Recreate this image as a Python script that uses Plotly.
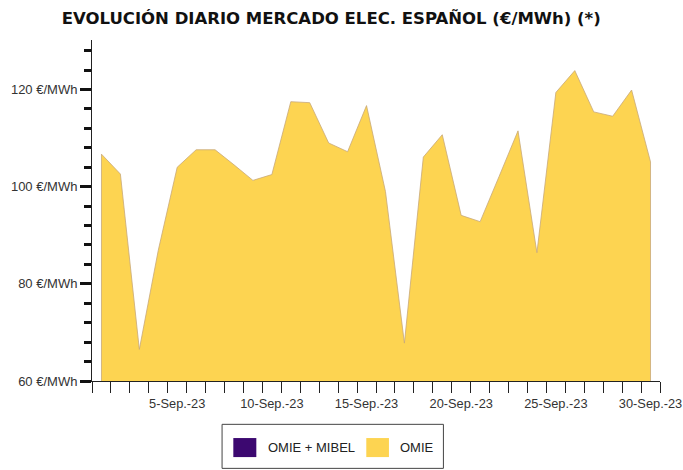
import plotly.graph_objects as go

# daily price, September 2023 (OMIE)
days = list(range(1, 31))
omie = [106.7, 102.6, 66.5, 86.9, 104.0, 107.6, 107.6, 104.5, 101.3, 102.5,
        117.5, 117.3, 109.0, 107.2, 116.7, 99.0, 67.8, 106.1, 110.7, 94.1,
        92.8, 102.1, 111.5, 86.4, 119.4, 123.9, 115.4, 114.5, 119.9, 105.1]

label_days = [5, 10, 15, 20, 25, 30]
label_text = [f"{d}-Sep.-23" for d in label_days]
y_ticks = [60, 80, 100, 120]
y_text = [f"{v} €/MWh" for v in y_ticks]
y_min, y_max = 60, 130.2

legend_names = ["OMIE + MIBEL", "OMIE"]
legend_colors = ["#3c0870", "#fdd451"]

# closed polygon so the outline runs down both sides like the original
poly_x = [days[0]] + days + [days[-1]]
poly_y = [y_min] + omie + [y_min]

fig = go.Figure()
fig.add_trace(go.Scatter(
    x=poly_x, y=poly_y,
    fill="toself",
    fillcolor="#fdd451",
    line=dict(color="#c8a878", width=0.8),
    mode="lines",
    name="OMIE",
    hoverinfo="skip",
    showlegend=False
))

tick_font = dict(family="Liberation Sans, Arial", size=13, color="#333")

fig.update_xaxes(
    range=[0.5, 30.5],
    tickvals=label_days,
    ticktext=label_text,
    ticks="outside", ticklen=11, tickcolor="rgba(0,0,0,0)",
    minor=dict(tick0=0.5, dtick=1, ticks="outside", ticklen=11,
               tickwidth=1, tickcolor="#222"),
    showline=True, linecolor="#222", linewidth=1,
    showgrid=False, zeroline=False, automargin=False,
    ticklabeloverflow="allow",
    tickfont=dict(tick_font, size=12.8)
)
fig.update_yaxes(
    range=[y_min, y_max],
    tickvals=y_ticks,
    ticktext=y_text,
    ticks="outside", ticklen=11, tickwidth=2.5, tickcolor="#111",
    minor=dict(tick0=60, dtick=4, ticks="outside", ticklen=7,
               tickwidth=2.5, tickcolor="#111"),
    showline=True, linecolor="#222", linewidth=1,
    showgrid=False, zeroline=False, automargin=False,
    tickfont=tick_font
)

# hand-made legend box below the plot
fig.add_shape(type="rect", xref="paper", yref="paper",
              x0=0.2290, x1=0.6187, y0=-0.2562, y1=-0.1271,
              line=dict(color="#444", width=1), fillcolor="white")
box_x = [(0.2488, 0.2893), (0.4829, 0.5228)]
text_x = [0.3062, 0.5393]
for name, col, (x0, x1), tx in zip(legend_names, legend_colors, box_x, text_x):
    fig.add_shape(type="rect", xref="paper", yref="paper",
                  x0=x0, x1=x1, y0=-0.2231, y1=-0.1673,
                  line=dict(width=0), fillcolor=col)
    fig.add_annotation(x=tx, y=-0.1955, xref="paper", yref="paper",
                       text=name, showarrow=False, xanchor="left", yanchor="middle",
                       font=dict(family="Liberation Sans, Arial", size=13, color="#222"))

fig.update_layout(
    width=683, height=470,
    margin=dict(l=91.6, r=23, t=40, b=89.3),
    paper_bgcolor="white",
    plot_bgcolor="white",
    title=dict(text="<b>EVOLUCIÓN DIARIO MERCADO ELEC. ESPAÑOL (€/MWh) (*)</b>",
               x=0.485, xanchor="center", y=0.962, yanchor="middle",
               font=dict(family="DejaVu Sans", size=16.5, color="#111")),
    showlegend=False
)

# drop the browser's default body margin so the figure sits at 0,0
fig.write_html("out.html", config={"displayModeBar": False},
               post_script="document.body.style.margin='0';")
